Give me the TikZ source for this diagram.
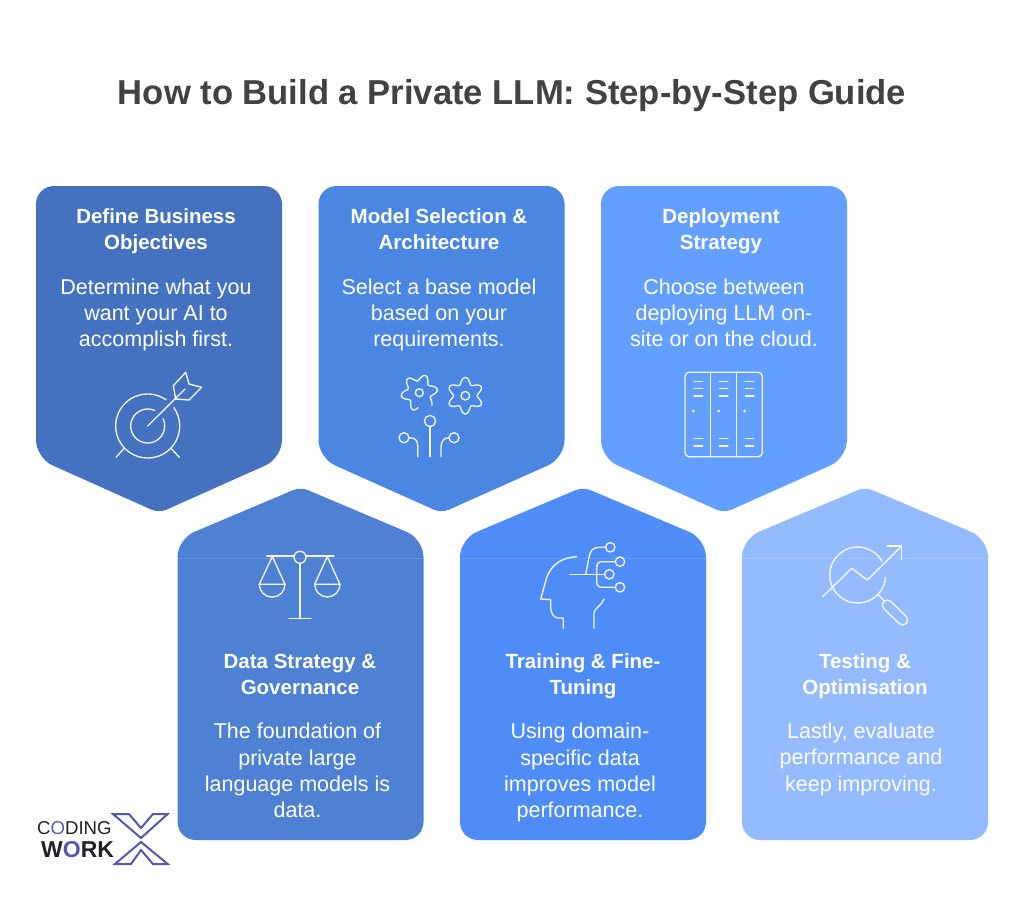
\documentclass[tikz,border=0pt]{standalone}
\usepackage{fontspec}
\setmainfont{Liberation Sans}
\definecolor{cardA}{HTML}{4472C0}
\definecolor{cardB}{HTML}{4A86E2}
\definecolor{cardC}{HTML}{639FFF}
\definecolor{cardD}{HTML}{4E81D4}
\definecolor{cardE}{HTML}{4E8DF8}
\definecolor{cardF}{HTML}{94BBFF}
\definecolor{titlegrey}{HTML}{424242}
\definecolor{logoblue}{HTML}{5558AE}
\definecolor{logoblack}{HTML}{222226}
\tikzset{
 icon/.style={draw=white,draw opacity=.92,line width=1.35pt,line cap=round,line join=round},
 headtext/.style={text=white,align=center,font=\fontsize{20.5}{26}\selectfont\bfseries,inner sep=0pt,execute at begin node=\strut,execute at end node=\strut},
 bodytext/.style={text=white,align=center,font=\fontsize{21.5}{26.2}\selectfont,inner sep=0pt,execute at begin node=\strut,execute at end node=\strut},
 seam/.style={draw=white,draw opacity=.12,line width=.8pt}
}
\newcommand{\downcard}[2]{%
 \fill[#2,shift={(#1,0)}] (123,186) [rounded corners=18pt] -- (246,186) -- (246,458) [rounded corners=8pt] -- (123,513) [rounded corners=18pt] -- (0,458) -- (0,186) -- cycle;}
\newcommand{\upcard}[2]{%
 \fill[#2,shift={(#1,0)}] (0,700) [rounded corners=18pt] -- (0,840) -- (246,840) -- (246,539) [rounded corners=8pt] -- (123,487) [rounded corners=18pt] -- (0,539) -- cycle;
 \draw[seam,shift={(#1,0)}] (0,558) -- (246,558);}
\begin{document}
\begin{tikzpicture}[x=1pt,y=-1pt]
\useasboundingbox (0,0) rectangle (1024,912);
\fill[white] (0,0) rectangle (1024,912);
\node[text=titlegrey,font=\fontsize{34.6}{40}\selectfont\bfseries,inner sep=0pt] (title) at (512,96) {How to Build a Private LLM: Step-by-Step Guide};
% cards
\downcard{36}{cardA}
\downcard{318.5}{cardB}
\downcard{601}{cardC}
\upcard{177.5}{cardD}
\upcard{460}{cardE}
\upcard{742}{cardF}
% card text
\node[headtext] (h1) at (156,232.8) {Define Business\\Objectives};
\node[bodytext] (b1) at (156,316.8) {Determine what you\\want your AI to\\accomplish first.};
\node[headtext] (h2) at (439,232.8) {Model Selection \&\\Architecture};
\node[bodytext] (b2) at (439,316.8) {Select a base model\\based on your\\requirements.};
\node[headtext] (h3) at (721,232.8) {Deployment\\Strategy};
\node[bodytext] (b3) at (724,316.8) {Choose between\\deploying LLM on-\\site or on the cloud.};
\node[headtext] (h4) at (300,677.8) {Data Strategy \&\\Governance};
\node[bodytext] (b4) at (297.5,774.3) {The foundation of\\private large\\language models is\\data.};
\node[headtext] (h5) at (583,677.8) {Training \& Fine-\\Tuning};
\node[bodytext] (b5) at (580,774.3) {Using domain-\\specific data\\improves model\\performance.};
\node[headtext] (h6) at (865,677.8) {Testing \&\\Optimisation};
\node[bodytext] (b6) at (861,761) {Lastly, evaluate\\performance and\\keep improving.};
% target icon
\draw[icon] (147.7,426) ++(55:32pt) arc[start angle=55,end angle=395,radius=32pt];
\draw[icon] (147.7,426) ++(65:17pt) arc[start angle=65,end angle=385,radius=17pt];
\draw[icon] (147.7,426) -- (185,389);
\draw[icon] (185.7,372.3) -- (189,384) -- (201.7,387.3) -- (189,400) -- (175.7,399) -- (173.3,385.7) -- cycle;
\draw[icon] (124.3,448.3) -- (116,457.3);
\draw[icon] (171,448.3) -- (179.3,457.3);
% gears icon
\draw[icon] plot[domain=75:385,samples=130,smooth,variable=\t] ({419.3+(15+3.2*cos(6*(\t-70)))*cos(\t-120)},{392.7-(15+3.2*cos(6*(\t-70)))*sin(\t-120)});
\draw[icon] (419.3,392.7) circle[radius=4pt];
\draw[icon] plot[domain=0:360,samples=130,smooth,variable=\t] ({465.3+(15+3.2*cos(6*\t-540))*cos(\t)},{395.7-(15+3.2*cos(6*\t-540))*sin(\t)}) -- cycle;
\draw[icon] (465.3,395.7) circle[radius=4.3pt];
\draw[icon] (430,421) circle[radius=5.6pt];
\draw[icon] (430,426.6) -- (430,456.7);
\draw[icon] (404,437.7) circle[radius=5pt];
\draw[icon] (409,437.7) .. controls (415,437.7) and (417.7,440) .. (417.7,446) -- (417.7,456.7);
\draw[icon] (454,437.7) circle[radius=5pt];
\draw[icon] (449,437.7) .. controls (444,438) and (441,441) .. (441,447) -- (441,456.7);
% server icon
\draw[icon,rounded corners=4pt] (685,372.3) rectangle (762.3,456.7);
\draw[icon] (710.7,372.3) -- (710.7,456.7);
\draw[icon] (736.7,372.3) -- (736.7,456.7);
\foreach \cx in {694,719.3,745.3}{
 \foreach \cy in {381.3,388.7,396,438.7,446}{
  \draw[icon] (\cx,\cy) -- ++(8.6,0);}
 \fill[white] (\cx-.6,411) circle[radius=1.5pt];}
% scales icon
\draw[icon] (266.7,556) -- (294,556);
\draw[icon] (306,556) -- (334,556);
\draw[icon] (300,557.3) circle[radius=6pt];
\draw[icon] (300,563.3) -- (300,618.7);
\draw[icon] (289,618.7) -- (311,618.7);
\draw[icon] (259.3,584.3) -- (272.3,556.5) -- (285,584.3) -- cycle;
\draw[icon] (259.3,584.3) arc[start angle=180,end angle=360,radius=12.85pt];
\draw[icon] (314.7,584.3) -- (327.3,556.5) -- (340,584.3) -- cycle;
\draw[icon] (314.7,584.3) arc[start angle=180,end angle=360,radius=12.65pt];
% head icon
\draw[icon] (576.7,556.7) .. controls (557,558) and (549,569) .. (546,580) -- (540.7,599) -- (550.7,599.7) -- (550.7,608) .. controls (551,614) and (554,617.7) .. (558,618) -- (563.3,618) -- (563.3,628.3);
\draw[icon] (604,599) .. controls (602,605) and (594,609) .. (594,613) -- (594,628.3);
\draw[icon] (570,574.3) -- (595,574.3);
\draw[icon] (585.7,574.3) -- (589,557) .. controls (590,551) and (593,547.3) .. (599,547.3) -- (605.6,547.3);
\draw[icon] (610.3,547.3) circle[radius=4.7pt];
\draw[icon] (615.3,561.7) -- (602,561.7) .. controls (598,561.7) and (596.7,564) .. (596.7,568) -- (596.7,581) .. controls (596.7,585) and (598,587.3) .. (602,587.3) -- (615.3,587.3);
\draw[icon] (620,561.7) circle[radius=4.7pt];
\draw[icon] (620,587.3) circle[radius=4.7pt];
\draw[icon] (595,574.3) -- (604.6,574.3);
\draw[icon] (609.3,574.3) circle[radius=4.7pt];
% magnifier icon
\draw[icon] (857.7,575) ++(30:28pt) arc[start angle=30,end angle=355,radius=28pt];
\draw[icon] (822.7,596.7) -- (851.7,568.3) -- (867.3,580) -- (901.7,546);
\draw[icon] (887.3,546) -- (901.7,546) -- (901.7,560);
\draw[icon] (878.3,595) -- (885,601.7);
\draw[icon] (887.3,605) ++(45:5pt) -- ++(15.4,15) arc[start angle=45,end angle=-135,radius=5pt] -- ++(-15.4,-15) arc[start angle=-135,end angle=-315,radius=5pt] -- cycle;
% logo
\node[anchor=base west,inner sep=0pt,font=\fontsize{18.6}{19}\selectfont,text=logoblack] (logoa) at (37,834) {C\textcolor{logoblue}{O}DING};
\node[anchor=base west,inner sep=0pt,font=\fontsize{23}{23}\selectfont\bfseries,text=logoblack] (logob) at (41,857) {W\textcolor{logoblue}{O}RK};
\draw[logoblue,line width=2pt,line join=miter] (113,814) -- (129,814) -- (141,828) -- (153,814) -- (167.7,814) -- (141,838) -- cycle;
\draw[logoblue,line width=2pt,line join=miter] (115,864) -- (141,842) -- (167.7,864) -- (153,864) -- (141,850) -- (131,864) -- cycle;
\end{tikzpicture}
\end{document}
